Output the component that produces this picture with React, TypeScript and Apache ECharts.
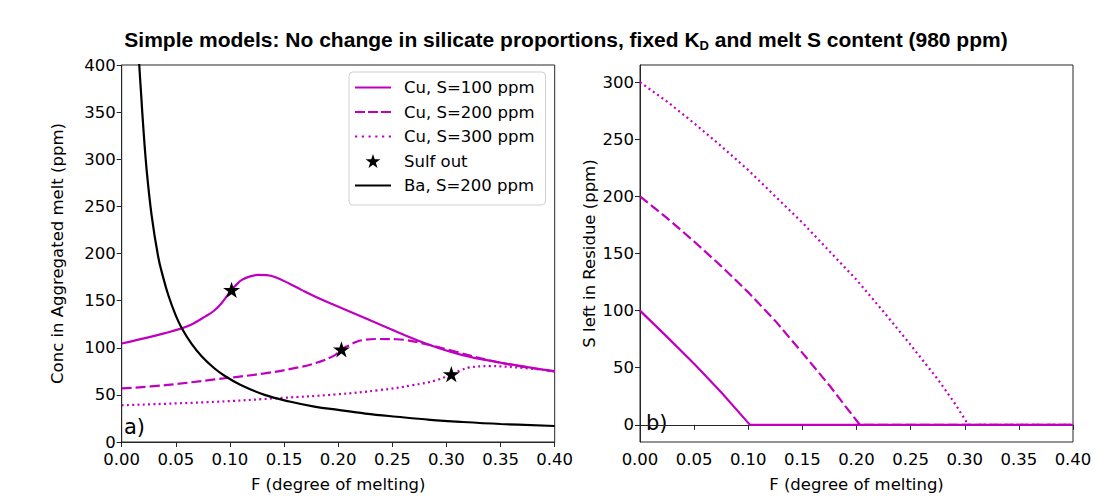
import React, { useEffect, useRef } from "react";
import * as echarts from "echarts";

// ---- data ----
const xTicks = [0, 0.05, 0.1, 0.15, 0.2, 0.25, 0.3, 0.35, 0.4];
const leftYTicks = [0, 50, 100, 150, 200, 250, 300, 350, 400];
const rightYTicks = [0, 50, 100, 150, 200, 250, 300];

const cuS100: number[][] = [
  [0, 104.5], [0.0246, 111], [0.04, 115.5], [0.0554, 120.6], [0.065, 125], [0.077, 133],
  [0.085, 139], [0.092, 147], [0.1015, 161.4], [0.106, 167], [0.111, 172], [0.118, 175.5],
  [0.126, 177.3], [0.134, 177], [0.1415, 175], [0.155, 168], [0.166, 161.4], [0.18, 153.5],
  [0.197, 145], [0.223, 132.3], [0.254, 117], [0.2845, 103], [0.315, 92.2], [0.346, 85],
  [0.375, 79.5], [0.4, 75],
];
const cuS200: number[][] = [
  [0, 56.8], [0.04, 60.3], [0.086, 66.4], [0.132, 72.8], [0.163, 79.1], [0.18, 84],
  [0.197, 92.2], [0.203, 98.3], [0.21, 102.5], [0.217, 106.4], [0.225, 108.5], [0.235, 109.3],
  [0.254, 109], [0.278, 104.7], [0.309, 95.7], [0.34, 86.5], [0.37, 80], [0.4, 75],
];
const cuS300: number[][] = [
  [0, 39], [0.086, 42.6], [0.148, 46.8], [0.197, 50.4], [0.238, 55], [0.269, 60.3],
  [0.291, 65.6], [0.3045, 72], [0.313, 76], [0.321, 79.1], [0.34, 80.5], [0.3645, 79.1],
  [0.4, 75.2],
];
const sulfOut: number[][] = [[0.1015, 161.4], [0.203, 98.3], [0.3045, 72]];
const baS200: number[][] = [
  [0.0152, 420], [0.016, 404], [0.018, 368], [0.02, 333], [0.0231, 288], [0.0277, 240],
  [0.0338, 196], [0.038, 176], [0.043, 156], [0.05, 134], [0.0554, 121], [0.0646, 104],
  [0.0738, 91], [0.085, 78.8], [0.0953, 70], [0.11, 60.5], [0.132, 50], [0.155, 43],
  [0.178, 37.6], [0.2, 34], [0.225, 30.2], [0.254, 26.8], [0.285, 23.5], [0.315, 21.2],
  [0.35, 19.1], [0.4, 17],
];
const resS100: number[][] = [[0, 100], [0.025, 77], [0.05, 53.5], [0.075, 28.5], [0.1016, 0], [0.4, 0]];
const resS200: number[][] = [
  [0, 200], [0.025, 181], [0.05, 160.5], [0.075, 139], [0.1, 116], [0.125, 91], [0.15, 63],
  [0.175, 34.5], [0.19, 16], [0.2032, 0], [0.4, 0],
];
const resS300: number[][] = [
  [0, 300], [0.025, 283], [0.05, 264], [0.075, 244], [0.1, 223], [0.125, 200], [0.15, 177],
  [0.175, 152], [0.2, 127], [0.225, 99], [0.25, 70], [0.275, 40], [0.29, 20], [0.3033, 0], [0.4, 0],
];

const MAG = "#bf00bf";
const FONT = "DejaVu Sans";
const STAR =
  "path://M50,0 L61.23,34.55 L97.55,34.55 L68.17,55.9 L79.39,90.45 L50,69.1 L20.61,90.45 L31.83,55.9 L2.45,34.55 L38.77,34.55 Z";
const ICON_SOLID = "path://M0,0H36V2.2H0Z";
const ICON_DASH = "path://M0,0H10V2.2H0Z M13,0H23V2.2H13Z M26,0H36V2.2H26Z";
const ICON_DOT =
  "path://M0,0H2.2V2.2H0Z M6.76,0H8.96V2.2H6.76Z M13.52,0H15.72V2.2H13.52Z M20.28,0H22.48V2.2H20.28Z M27.04,0H29.24V2.2H27.04Z M33.8,0H36V2.2H33.8Z";

export default function App() {
  const ref = useRef<HTMLDivElement>(null);
  useEffect(() => {
    if (!ref.current) return;
    const chart = echarts.init(ref.current, null, { renderer: "svg" });
    const axisText = { color: "#000", fontFamily: FONT, fontSize: 16.5 };
    const xAxisCommon = (gridIndex: number) => ({
      type: "value",
      gridIndex,
      min: 0,
      max: 0.4,
      interval: 0.05,
      name: "F (degree of melting)",
      nameLocation: "middle",
      nameGap: 34,
      nameTextStyle: { ...axisText },
      axisLine: { show: true, lineStyle: { color: "#262626", width: 1 } },
      axisTick: { show: true, length: 5, lineStyle: { color: "#262626" }, customValues: xTicks },
      axisLabel: { ...axisText, margin: 9, formatter: (v: number) => v.toFixed(2), customValues: xTicks },
      splitLine: { show: false },
    });
    const line = (name: string, data: number[][], type: any, color: string, xi: number, yi: number, smooth: any) => ({
      name,
      type: "line",
      xAxisIndex: xi,
      yAxisIndex: yi,
      data,
      symbol: "none",
      clip: true,
      smooth,
      lineStyle: { color, width: 2.2, type },
      itemStyle: { color },
    });
    chart.setOption({
      animation: false,
      backgroundColor: "#fff",
      title: {
        text: "{a|Simple models: No change in silicate proportions, fixed K}{s|D}{a| and melt S content (980 ppm)}",
        left: 561,
        textAlign: "center",
        top: 21,
        textStyle: {
          rich: {
            a: { fontFamily: "Liberation Sans", fontWeight: "bold", fontSize: 21, color: "#000", lineHeight: 26 },
            s: { fontFamily: "Liberation Sans", fontWeight: "bold", fontSize: 13, color: "#000", lineHeight: 26, padding: [13, 0, 0, 0] },
          },
        },
      },
      grid: [
        { left: 121.7, top: 65, width: 433, height: 377, show: true, borderColor: "#262626", borderWidth: 1, backgroundColor: "transparent" },
        { left: 640, top: 65, width: 433, height: 377, show: true, borderColor: "#262626", borderWidth: 1, backgroundColor: "transparent" },
      ],
      xAxis: [xAxisCommon(0), xAxisCommon(1)],
      yAxis: [
        {
          type: "value",
          gridIndex: 0,
          min: 0,
          max: 400,
          interval: 50,
          name: "Conc in Aggregated melt (ppm)",
          nameLocation: "middle",
          nameGap: 56,
          nameTextStyle: { ...axisText },
          axisLine: { show: true, lineStyle: { color: "#262626", width: 1 } },
          axisTick: { show: true, length: 5, lineStyle: { color: "#262626" }, customValues: leftYTicks },
          axisLabel: { ...axisText, margin: 6, customValues: leftYTicks },
          splitLine: { show: false },
        },
        {
          type: "value",
          gridIndex: 1,
          min: -15,
          max: 315,
          name: "S left in Residue (ppm)",
          nameLocation: "middle",
          nameGap: 42,
          nameTextStyle: { ...axisText },
          axisLine: { show: true, lineStyle: { color: "#262626", width: 1 } },
          axisTick: { show: true, length: 5, lineStyle: { color: "#262626" }, customValues: rightYTicks },
          axisLabel: { ...axisText, margin: 6, customValues: rightYTicks },
          splitLine: { show: false },
        },
      ],
      legend: {
        left: 349,
        top: 72,
        orient: "vertical",
        itemWidth: 36,
        itemHeight: 14,
        itemGap: 7.5,
        padding: [7, 11, 11, 6],
        backgroundColor: "#fff",
        borderColor: "#d0d0d0",
        borderWidth: 1,
        borderRadius: 4,
        symbolKeepAspect: true,
        textStyle: { color: "#000", fontFamily: FONT, fontSize: 16.5, lineHeight: 14, padding: [0, 0, 0, 8] },
        data: [
          { name: "Cu, S=100 ppm", icon: ICON_SOLID },
          { name: "Cu, S=200 ppm", icon: ICON_DASH },
          { name: "Cu, S=300 ppm", icon: ICON_DOT },
          { name: "Sulf out" },
          { name: "Ba, S=200 ppm", icon: ICON_SOLID },
        ],
      },
      graphic: [
        { type: "text", left: 124, top: 416, style: { text: "a)", fontFamily: FONT, fontSize: 21, fill: "#000" } },
        { type: "text", left: 646, top: 412, style: { text: "b)", fontFamily: FONT, fontSize: 21, fill: "#000" } },
      ],
      series: [
        line("Cu, S=100 ppm", cuS100, "solid", MAG, 0, 0, 0.4),
        line("Cu, S=200 ppm", cuS200, [10, 4], MAG, 0, 0, 0.4),
        line("Cu, S=300 ppm", cuS300, [2, 3.3], MAG, 0, 0, 0.4),
        line("Ba, S=200 ppm", baS200, "solid", "#000", 0, 0, 0.4),
        {
          name: "Sulf out",
          type: "scatter",
          xAxisIndex: 0,
          yAxisIndex: 0,
          data: sulfOut,
          symbol: STAR,
          symbolSize: 17,
          symbolKeepAspect: true,
          itemStyle: { color: "#000", opacity: 1 },
          z: 5,
        },
        line("S100 res", resS100, "solid", MAG, 1, 1, false),
        line("S200 res", resS200, [10, 4], MAG, 1, 1, false),
        line("S300 res", resS300, [2, 3.3], MAG, 1, 1, false),
      ],
    });
    return () => chart.dispose();
  }, []);
  return (
    <div
      ref={ref}
      style={{ position: "fixed", left: 0, top: 0, width: 1108, height: 504, background: "#fff" }}
    />
  );
}
